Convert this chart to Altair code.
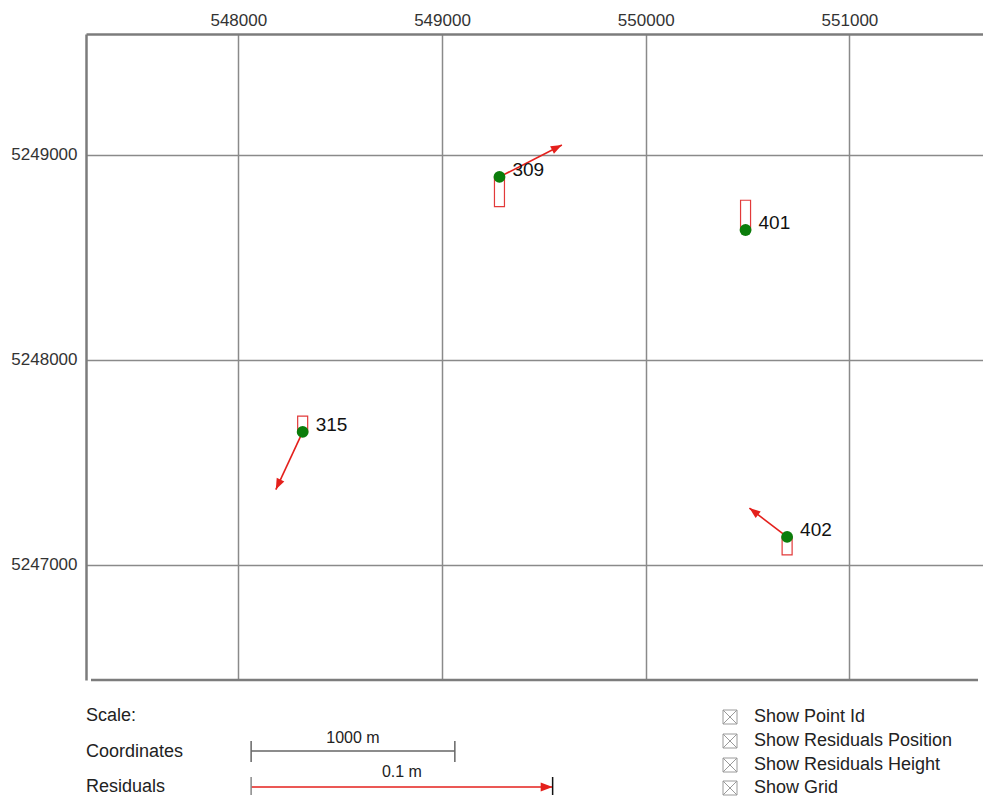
import math
import altair as alt
import pandas as pd

# ---------------- data ----------------
point_ids = ["309", "401", "315", "402"]
easting = [549282, 550490, 548316, 550694]
northing = [5248893, 5248634, 5247649, 5247137]
res_east = [0.0207, 0.0, -0.0089, -0.0125]      # m
res_north = [0.0105, 0.0, -0.0190, 0.0095]      # m
res_height = [-0.0098, 0.0098, 0.0052, -0.0059]  # m

x_domain = [547277, 551631]
y_domain = [5246439, 5249590]
x_ticks = [548000, 549000, 550000, 551000]
y_ticks = [5247000, 5248000, 5249000]

scale_texts = ["Scale:", "Coordinates", "Residuals"]
coord_bar_start = 548063
coord_bar_len = 1000
coord_bar_label = "1000 m"
res_bar_value = 0.1
res_bar_label = "0.1 m"
res_bar_map_len = 1480          # map metres used to draw the 0.1 m residual bar
checkbox_labels = ["Show Point Id", "Show Residuals Position",
                   "Show Residuals Height", "Show Grid"]

# ---------------- styling / layout ----------------
W, H = 897, 646
RED = "#e4201c"
RECT_RED = "#e23a3a"
GREEN = "#0b7d0b"
GRID = "#8a8a8a"
FRAME = "#7c7c7c"
FONT = "Liberation Sans"
ARROW = "M0,0L0.8,2.1L-0.8,2.1Z"
BOX = "M-1,-1L1,-1L1,1L-1,1Z M-1,-1L1,1 M1,-1L-1,1"

exag = res_bar_map_len / res_bar_value

df = pd.DataFrame({"id": point_ids, "E": easting, "N": northing,
                   "dE": res_east, "dN": res_north, "dH": res_height})
df["Etip"] = df["E"] + df["dE"] * exag
df["Ntip"] = df["N"] + df["dN"] * exag
df["Htop"] = df["N"] + df["dH"] * exag
df["angle"] = [(math.degrees(math.atan2(e, n)) + 360) % 360 for e, n in zip(df["dE"], df["dN"])]
arrows = df[(df["dE"] != 0) | (df["dN"] != 0)]

xscale = alt.Scale(domain=x_domain, nice=False, zero=False)
yscale = alt.Scale(domain=y_domain, nice=False, zero=False)
xaxis = alt.Axis(orient="top", values=x_ticks, format="d", grid=True, gridColor=GRID,
                 gridWidth=1.5, gridOpacity=1, ticks=False, domain=True, domainColor=FRAME,
                 domainWidth=2.5, labelFontSize=17, labelFont=FONT, labelColor="#333",
                 labelPadding=5, title=None)
yaxis = alt.Axis(orient="left", values=y_ticks, format="d", grid=True, gridColor=GRID,
                 gridWidth=1.5, gridOpacity=1, ticks=False, domain=True, domainColor=FRAME,
                 domainWidth=2.5, labelFontSize=17, labelFont=FONT, labelColor="#333",
                 labelPadding=9, title=None)


def X(f):
    return alt.X(f, type="quantitative", scale=xscale, axis=xaxis)


def Y(f):
    return alt.Y(f, type="quantitative", scale=yscale, axis=yaxis)


base = alt.Chart(df)

# frame bottom line (right side is cut off in the original)
frame_df = pd.DataFrame({"x": [x_domain[0]], "x2": [x_domain[1]], "y": [y_domain[0]]})
frame = alt.Chart(frame_df).mark_rule(color=FRAME, strokeWidth=2.5).encode(
    x=X("x"), x2="x2", y=Y("y"))

hbars = base.mark_bar(size=10, fill="white", stroke=RECT_RED, strokeWidth=1.2).encode(
    x=X("E"), y=Y("N"), y2="Htop")

arrow_lines = alt.Chart(arrows).mark_rule(color=RED, strokeWidth=1.6).encode(
    x=X("E"), y=Y("N"), x2="Etip", y2="Ntip")
arrow_heads = alt.Chart(arrows).mark_point(shape=ARROW, filled=True, size=110, color=RED,
                                           opacity=1).encode(
    x=X("Etip"), y=Y("Ntip"), angle=alt.Angle("angle:Q", scale=None))

pts = base.mark_circle(size=140, color=GREEN, opacity=1).encode(x=X("E"), y=Y("N"))
labels = base.mark_text(align="left", baseline="middle", dx=13, dy=-7, fontSize=19,
                        font=FONT, color="#111").encode(x=X("E"), y=Y("N"), text="id")

layers = [frame, hbars, arrow_lines, arrow_heads, pts, labels]

# ---------- scale area below the map ----------
scale_y = [682, 718, 753]
for t, yy in zip(scale_texts, scale_y):
    layers.append(alt.Chart(pd.DataFrame({"t": [t]})).mark_text(
        align="left", baseline="middle", fontSize=18, font=FONT, color="#222").encode(
        x=alt.value(0), y=alt.value(yy), text="t"))

cb = pd.DataFrame({"s": [coord_bar_start], "e": [coord_bar_start + coord_bar_len],
                   "m": [coord_bar_start + coord_bar_len / 2], "label": [coord_bar_label]})
layers.append(alt.Chart(cb).mark_rule(color="#666", strokeWidth=1.5).encode(
    x=X("s"), x2="e", y=alt.value(717)))
for f in ["s", "e"]:
    layers.append(alt.Chart(cb).mark_rule(color="#666", strokeWidth=1.5).encode(
        x=X(f), y=alt.value(707), y2=alt.value(728)))
layers.append(alt.Chart(cb).mark_text(baseline="middle", fontSize=16, font=FONT,
                                      color="#222").encode(
    x=X("m"), y=alt.value(704), text="label"))

rb = pd.DataFrame({"s": [coord_bar_start], "e": [coord_bar_start + res_bar_map_len],
                   "m": [coord_bar_start + res_bar_map_len / 2], "label": [res_bar_label],
                   "angle": [90]})
layers.append(alt.Chart(rb).mark_rule(color=RED, strokeWidth=1.6).encode(
    x=X("s"), x2="e", y=alt.value(753)))
layers.append(alt.Chart(rb).mark_point(shape=ARROW, filled=True, size=130, color=RED,
                                       opacity=1).encode(
    x=X("e"), y=alt.value(753), angle=alt.Angle("angle:Q", scale=None)))
layers.append(alt.Chart(rb).mark_rule(color="#888", strokeWidth=1.5).encode(
    x=X("s"), y=alt.value(743), y2=alt.value(761)))
layers.append(alt.Chart(rb).mark_rule(color="#111", strokeWidth=1.5).encode(
    x=X("e"), y=alt.value(743), y2=alt.value(761)))
layers.append(alt.Chart(rb).mark_text(baseline="middle", fontSize=16, font=FONT,
                                      color="#222").encode(
    x=X("m"), y=alt.value(738), text="label"))

# ---------- checkboxes ----------
cb_y = [683, 707, 731, 754]
for t, yy in zip(checkbox_labels, cb_y):
    d = pd.DataFrame({"t": [t]})
    layers.append(alt.Chart(d).mark_point(shape=BOX, filled=False, size=196, color="#9a9a9a",
                                          strokeWidth=1, opacity=1).encode(
        x=alt.value(644), y=alt.value(yy)))
    layers.append(alt.Chart(d).mark_text(align="left", baseline="middle", fontSize=18,
                                         font=FONT, color="#222").encode(
        x=alt.value(668), y=alt.value(yy), text="t"))

chart = alt.layer(*layers).properties(
    width=W, height=H,
    autosize=alt.AutoSizeParams(type="none"),
    padding={"left": 78, "top": 26, "right": 0, "bottom": 116},
).configure_view(stroke="transparent")

chart.save("out.html", embed_options={"renderer": "svg", "actions": False})
